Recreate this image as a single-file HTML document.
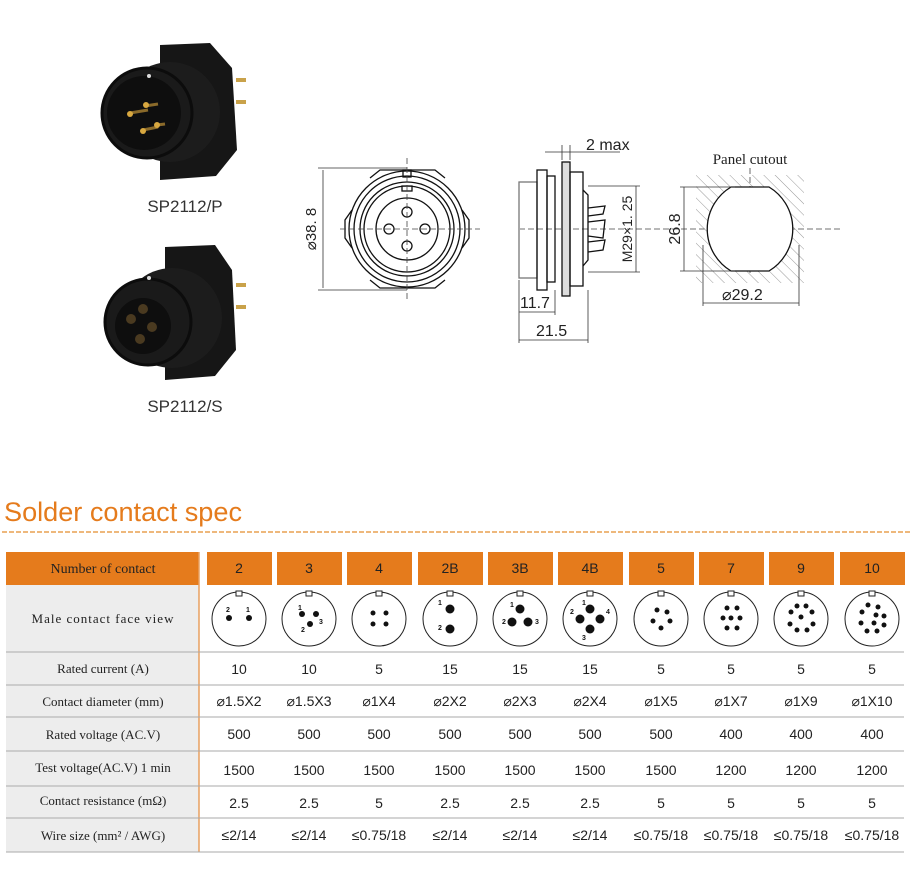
<!DOCTYPE html>
<html><head><meta charset="utf-8"><style>
body{margin:0;background:#fff}
svg{display:block}
.s{font-family:"Liberation Sans",sans-serif}
.r{font-family:"Liberation Serif",serif}
</style></head><body>
<svg width="910" height="880" viewBox="0 0 910 880" xmlns="http://www.w3.org/2000/svg">
<!-- photos -->
<g>
<polygon points="160,45 210,43 232,68 237,150 216,176 160,180" fill="#161616"/>
<circle cx="170" cy="112" r="50" fill="#1c1c1c"/>
<circle cx="147" cy="113" r="45" fill="#1a1a1a" stroke="#0c0c0c" stroke-width="3"/>
<circle cx="144" cy="113" r="37" fill="#0e0e0e"/>
<line x1="130" y1="113" x2="148" y2="110" stroke="#8a6a2a" stroke-width="3"/>
<line x1="145" y1="106" x2="158" y2="104" stroke="#8a6a2a" stroke-width="3"/>
<line x1="143" y1="130" x2="158" y2="127" stroke="#8a6a2a" stroke-width="3"/>
<line x1="157" y1="125" x2="165" y2="124" stroke="#8a6a2a" stroke-width="3"/>
<circle cx="130" cy="114" r="3" fill="#d8a840"/><circle cx="146" cy="105" r="3" fill="#d8a840"/><circle cx="143" cy="131" r="3" fill="#d8a840"/><circle cx="157" cy="125" r="3" fill="#d8a840"/>
<rect x="236" y="78" width="10" height="4" fill="#c9a24a"/><rect x="236" y="100" width="10" height="4" fill="#c9a24a"/>
<circle cx="149" cy="76" r="2" fill="#ddd"/>
<text x="185" y="212" class="s" font-size="17" text-anchor="middle" fill="#333">SP2112/P</text>
<polygon points="165,247 215,245 232,270 236,350 215,376 165,380" fill="#161616"/>
<circle cx="172" cy="318" r="50" fill="#1c1c1c"/>
<circle cx="148" cy="322" r="43" fill="#1a1a1a" stroke="#0c0c0c" stroke-width="3"/>
<circle cx="143" cy="326" r="28" fill="#0e0e0e"/>
<circle cx="131" cy="319" r="5" fill="#4a3a20"/><circle cx="143" cy="309" r="5" fill="#4a3a20"/><circle cx="152" cy="327" r="5" fill="#4a3a20"/><circle cx="140" cy="339" r="5" fill="#4a3a20"/>
<rect x="236" y="283" width="10" height="4" fill="#c9a24a"/><rect x="236" y="305" width="10" height="4" fill="#c9a24a"/>
<circle cx="149" cy="278" r="2" fill="#ddd"/>
<text x="185" y="412" class="s" font-size="17" text-anchor="middle" fill="#333">SP2112/S</text>
</g>
<!-- front drawing -->
<g fill="none" stroke="#111" stroke-width="1.3">
<circle cx="407" cy="229" r="58"/><circle cx="407" cy="229" r="53"/><circle cx="407" cy="229" r="47"/><circle cx="407" cy="229" r="43"/><circle cx="407" cy="229" r="31"/>
<path d="M352,210 L345,220 L345,238 L352,248 M462,210 L469,220 L469,238 L462,248"/>
<path d="M370,178 L380,170 L435,170 L445,178 M370,280 L380,288 L435,288 L445,280"/>
<rect x="403" y="170" width="8" height="7"/><rect x="402" y="186" width="10" height="5"/>
<circle cx="407" cy="212" r="5"/><circle cx="407" cy="246" r="5"/><circle cx="389" cy="229" r="5"/><circle cx="425" cy="229" r="5"/>
</g>
<g stroke="#444" stroke-width="0.8" stroke-dasharray="6,3" fill="none">
<line x1="340" y1="229" x2="480" y2="229"/><line x1="407" y1="158" x2="407" y2="300"/>
<line x1="840" y1="229" x2="520" y2="229"/>
<line x1="750" y1="168" x2="750" y2="275"/>
</g>
<g stroke="#333" stroke-width="0.8" fill="none">
<line x1="318" y1="168" x2="407" y2="168"/><line x1="318" y1="290" x2="407" y2="290"/><line x1="323" y1="170" x2="323" y2="288"/>
</g>
<text transform="translate(316,229) rotate(-90)" class="s" font-size="15" text-anchor="middle" fill="#222">⌀38. 8</text>
<!-- side drawing -->
<g fill="none" stroke="#111" stroke-width="1.3">
<rect x="519" y="182" width="18" height="96" stroke="#777"/>
<rect x="537" y="170" width="10" height="120"/><rect x="547" y="176" width="8" height="106"/>
<rect x="562" y="162" width="8" height="134" fill="#ddd"/>
<rect x="570" y="172" width="13" height="114"/>
<path d="M583,190 L588,195 L588,260 L583,266"/>
<path d="M588,208 L605,206 L603,214 L588,216 M588,222 L605,220 L603,238 L588,236 M588,242 L605,240 L603,250 L588,252"/>
</g>
<g stroke="#333" stroke-width="0.8" fill="none">
<line x1="545" y1="152" x2="620" y2="152"/><line x1="562" y1="145" x2="562" y2="160"/><line x1="570" y1="145" x2="570" y2="160"/>
<line x1="588" y1="186" x2="640" y2="186"/><line x1="588" y1="272" x2="640" y2="272"/><line x1="636" y1="186" x2="636" y2="272"/>
<line x1="519" y1="280" x2="519" y2="343"/><line x1="555" y1="290" x2="555" y2="315"/><line x1="588" y1="290" x2="588" y2="343"/>
<line x1="519" y1="312" x2="555" y2="312"/><line x1="519" y1="340" x2="588" y2="340"/>
</g>
<text x="586" y="150" class="s" font-size="16" fill="#222">2 max</text>
<text transform="translate(632,229) rotate(-90)" class="s" font-size="14" text-anchor="middle" fill="#222">M29×1. 25</text>
<text x="520" y="308" class="s" font-size="16" fill="#222">11.7</text>
<text x="536" y="336" class="s" font-size="16" fill="#222">21.5</text>
<!-- panel cutout -->
<defs><pattern id="h" width="8" height="8" patternUnits="userSpaceOnUse" patternTransform="rotate(-45)"><line x1="0" y1="0" x2="0" y2="8" stroke="#999" stroke-width="1"/></pattern></defs>
<rect x="696" y="175" width="108" height="108" fill="url(#h)"/>
<path d="M731,187 L769,187 A49,49 0 0 1 769,271 L731,271 A49,49 0 0 1 731,187 Z" fill="#fff" stroke="#111" stroke-width="1.3"/>
<g stroke="#333" stroke-width="0.8" fill="none">
<line x1="680" y1="187" x2="735" y2="187"/><line x1="680" y1="271" x2="735" y2="271"/><line x1="684" y1="187" x2="684" y2="271"/>
<line x1="703" y1="245" x2="703" y2="306"/><line x1="799" y1="245" x2="799" y2="306"/><line x1="703" y1="303" x2="799" y2="303"/>
</g>
<text x="750" y="164" class="r" font-size="15" text-anchor="middle" fill="#222">Panel cutout</text>
<text transform="translate(680,229) rotate(-90)" class="s" font-size="16" text-anchor="middle" fill="#222">26.8</text>
<text x="722" y="300" class="s" font-size="16" fill="#222">⌀29.2</text>
<!-- title -->
<text x="4" y="521" class="s" font-size="27" fill="#e57b1c" textLength="238" lengthAdjust="spacingAndGlyphs">Solder contact spec</text>
<line x1="2" y1="532" x2="910" y2="532" stroke="#e8a050" stroke-width="1.5" stroke-dasharray="5,2"/>
<!-- table -->
<rect x="6" y="585" width="193" height="267" fill="#ededed"/>
<rect x="6" y="552" width="193" height="33" fill="#e57b1c"/>
<line x1="199" y1="552" x2="199" y2="852" stroke="#e8a060" stroke-width="1.5"/>
<g fill="#e57b1c">
<rect x="207" y="552" width="65" height="33"/><rect x="277" y="552" width="65" height="33"/><rect x="347" y="552" width="65" height="33"/><rect x="418" y="552" width="65" height="33"/><rect x="488" y="552" width="65" height="33"/><rect x="558" y="552" width="65" height="33"/><rect x="629" y="552" width="65" height="33"/><rect x="699" y="552" width="65" height="33"/><rect x="769" y="552" width="65" height="33"/><rect x="840" y="552" width="65" height="33"/>
</g>
<g stroke="#aaa" stroke-width="1">
<line x1="6" y1="652" x2="904" y2="652"/><line x1="6" y1="685" x2="904" y2="685"/><line x1="6" y1="717" x2="904" y2="717"/><line x1="6" y1="751" x2="904" y2="751"/><line x1="6" y1="786" x2="904" y2="786"/><line x1="6" y1="818" x2="904" y2="818"/><line x1="6" y1="852" x2="904" y2="852"/>
</g>
<g class="r" font-size="13" fill="#222" text-anchor="middle">
<text x="103" y="573" font-size="14">Number of contact</text>
<text x="103" y="623" letter-spacing="1">Male  contact  face  view</text>
<text x="103" y="673">Rated current (A)</text>
<text x="103" y="706">Contact diameter (mm)</text>
<text x="103" y="739">Rated voltage (AC.V)</text>
<text x="103" y="772">Test voltage(AC.V) 1 min</text>
<text x="103" y="805">Contact resistance (mΩ)</text>
<text x="103" y="840">Wire size (mm² / AWG)</text>
</g>
<g class="s" font-size="14" fill="#222" text-anchor="middle">
<g><text x="239" y="573">2</text><text x="309" y="573">3</text><text x="379" y="573">4</text><text x="450" y="573">2B</text><text x="520" y="573">3B</text><text x="590" y="573">4B</text><text x="661" y="573">5</text><text x="731" y="573">7</text><text x="801" y="573">9</text><text x="872" y="573">10</text></g>
<g><text x="239" y="674">10</text><text x="309" y="674">10</text><text x="379" y="674">5</text><text x="450" y="674">15</text><text x="520" y="674">15</text><text x="590" y="674">15</text><text x="661" y="674">5</text><text x="731" y="674">5</text><text x="801" y="674">5</text><text x="872" y="674">5</text></g>
<g><text x="239" y="706">⌀1.5X2</text><text x="309" y="706">⌀1.5X3</text><text x="379" y="706">⌀1X4</text><text x="450" y="706">⌀2X2</text><text x="520" y="706">⌀2X3</text><text x="590" y="706">⌀2X4</text><text x="661" y="706">⌀1X5</text><text x="731" y="706">⌀1X7</text><text x="801" y="706">⌀1X9</text><text x="872" y="706">⌀1X10</text></g>
<g><text x="239" y="739">500</text><text x="309" y="739">500</text><text x="379" y="739">500</text><text x="450" y="739">500</text><text x="520" y="739">500</text><text x="590" y="739">500</text><text x="661" y="739">500</text><text x="731" y="739">400</text><text x="801" y="739">400</text><text x="872" y="739">400</text></g>
<g><text x="239" y="775">1500</text><text x="309" y="775">1500</text><text x="379" y="775">1500</text><text x="450" y="775">1500</text><text x="520" y="775">1500</text><text x="590" y="775">1500</text><text x="661" y="775">1500</text><text x="731" y="775">1200</text><text x="801" y="775">1200</text><text x="872" y="775">1200</text></g>
<g><text x="239" y="808">2.5</text><text x="309" y="808">2.5</text><text x="379" y="808">5</text><text x="450" y="808">2.5</text><text x="520" y="808">2.5</text><text x="590" y="808">2.5</text><text x="661" y="808">5</text><text x="731" y="808">5</text><text x="801" y="808">5</text><text x="872" y="808">5</text></g>
<g><text x="239" y="840">≤2/14</text><text x="309" y="840">≤2/14</text><text x="379" y="840">≤0.75/18</text><text x="450" y="840">≤2/14</text><text x="520" y="840">≤2/14</text><text x="590" y="840">≤2/14</text><text x="661" y="840">≤0.75/18</text><text x="731" y="840">≤0.75/18</text><text x="801" y="840">≤0.75/18</text><text x="872" y="840">≤0.75/18</text></g>
</g>
<!-- face views -->
<g fill="none" stroke="#222" stroke-width="1">
<circle cx="239" cy="619" r="27"/><circle cx="309" cy="619" r="27"/><circle cx="379" cy="619" r="27"/><circle cx="450" cy="619" r="27"/><circle cx="520" cy="619" r="27"/><circle cx="590" cy="619" r="27"/><circle cx="661" cy="619" r="27"/><circle cx="731" cy="619" r="27"/><circle cx="801" cy="619" r="27"/><circle cx="872" cy="619" r="27"/>
</g>
<g fill="#fff" stroke="#222" stroke-width="1">
<rect x="236" y="591" width="6" height="5"/><rect x="306" y="591" width="6" height="5"/><rect x="376" y="591" width="6" height="5"/><rect x="447" y="591" width="6" height="5"/><rect x="517" y="591" width="6" height="5"/><rect x="587" y="591" width="6" height="5"/><rect x="658" y="591" width="6" height="5"/><rect x="728" y="591" width="6" height="5"/><rect x="798" y="591" width="6" height="5"/><rect x="869" y="591" width="6" height="5"/>
</g>
<g fill="#111">
<circle cx="229" cy="618" r="3"/><circle cx="249" cy="618" r="3"/>
<circle cx="302" cy="614" r="3"/><circle cx="316" cy="614" r="3"/><circle cx="310" cy="624" r="3"/>
<circle cx="373" cy="613" r="2.5"/><circle cx="386" cy="613" r="2.5"/><circle cx="373" cy="624" r="2.5"/><circle cx="386" cy="624" r="2.5"/>
<circle cx="450" cy="609" r="4.5"/><circle cx="450" cy="629" r="4.5"/>
<circle cx="520" cy="609" r="4.5"/><circle cx="512" cy="622" r="4.5"/><circle cx="528" cy="622" r="4.5"/>
<circle cx="590" cy="609" r="4.5"/><circle cx="580" cy="619" r="4.5"/><circle cx="600" cy="619" r="4.5"/><circle cx="590" cy="629" r="4.5"/>
<circle cx="657" cy="610" r="2.5"/><circle cx="667" cy="612" r="2.5"/><circle cx="653" cy="621" r="2.5"/><circle cx="670" cy="621" r="2.5"/><circle cx="661" cy="628" r="2.5"/>
<circle cx="727" cy="608" r="2.5"/><circle cx="737" cy="608" r="2.5"/><circle cx="723" cy="618" r="2.5"/><circle cx="731" cy="618" r="2.5"/><circle cx="740" cy="618" r="2.5"/><circle cx="727" cy="628" r="2.5"/><circle cx="737" cy="628" r="2.5"/>
<circle cx="797" cy="606" r="2.5"/><circle cx="806" cy="606" r="2.5"/><circle cx="791" cy="612" r="2.5"/><circle cx="812" cy="612" r="2.5"/><circle cx="801" cy="617" r="2.5"/><circle cx="790" cy="624" r="2.5"/><circle cx="813" cy="624" r="2.5"/><circle cx="797" cy="630" r="2.5"/><circle cx="807" cy="630" r="2.5"/>
<circle cx="868" cy="605" r="2.5"/><circle cx="878" cy="607" r="2.5"/><circle cx="862" cy="612" r="2.5"/><circle cx="876" cy="615" r="2.5"/><circle cx="884" cy="616" r="2.5"/><circle cx="861" cy="623" r="2.5"/><circle cx="874" cy="623" r="2.5"/><circle cx="884" cy="625" r="2.5"/><circle cx="867" cy="631" r="2.5"/><circle cx="877" cy="631" r="2.5"/>
</g>
<g class="s" font-size="7" font-weight="bold" fill="#111">
<text x="226" y="612">2</text><text x="246" y="612">1</text>
<text x="298" y="610">1</text><text x="319" y="624">3</text><text x="301" y="632">2</text>
<text x="438" y="605">1</text><text x="438" y="630">2</text>
<text x="510" y="607">1</text><text x="502" y="624">2</text><text x="535" y="624">3</text>
<text x="582" y="605">1</text><text x="570" y="614">2</text><text x="606" y="614">4</text><text x="582" y="640">3</text>
</g>
</svg>
</body></html>
